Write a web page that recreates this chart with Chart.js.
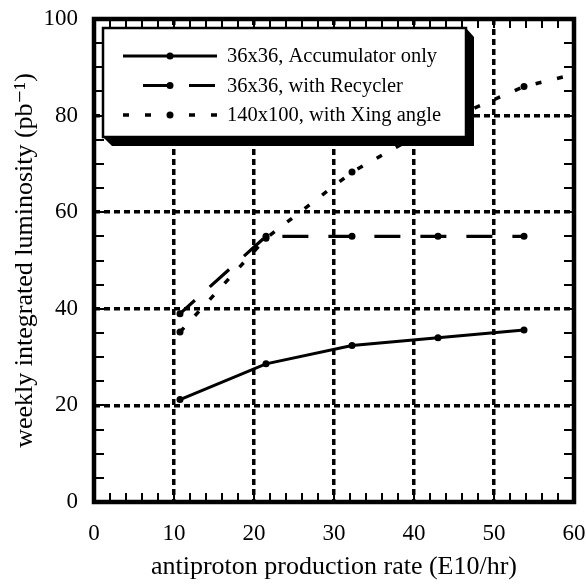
<!DOCTYPE html>
<html><head><meta charset="utf-8">
<script src="https://cdn.jsdelivr.net/npm/chart.js@4.4.1/dist/chart.umd.min.js"></script>
<style>html,body{margin:0;padding:0;background:#fff}canvas{display:block}</style>
</head><body>
<canvas id="c" width="586" height="584"></canvas>
<script>
// ---- data ----
const xValues = [10.75, 21.5, 32.25, 43, 53.75];
const accumulatorOnly = [21.2, 28.6, 32.4, 34.0, 35.6];
const withRecycler = [39.0, 55.0, 55.0, 55.0, 55.0];
const xingAngleX = [10.75, 21.5, 32.25, 43, 53.75, 64.5];
const xingAngle = [35.2, 54.6, 68.3, 78.3, 86.0, 90.4];
const seriesNames = ['36x36, Accumulator only', '36x36, with Recycler', '140x100, with Xing angle'];
const xTicks = [0, 10, 20, 30, 40, 50, 60];
const yTicks = [0, 20, 40, 60, 80, 100];
const xTitle = 'antiproton production rate (E10/hr)';
const yTitle = 'weekly integrated luminosity (pb\u207B\u00B9)';

const FONT = "'Liberation Serif', 'Times New Roman', 'DejaVu Serif', serif";
const toPts = (xs, ys) => ys.map((y, i) => ({x: xs[i], y}));

const datasets = [
  {label: seriesNames[0], data: toPts(xValues, accumulatorOnly), borderColor: '#000', backgroundColor: '#000',
   borderWidth: 3, pointRadius: 3.5, pointBackgroundColor: '#000', pointBorderWidth: 0, borderDash: [],
   legendDash: [], legendOffset: 0},
  {label: seriesNames[1], data: toPts(xValues, withRecycler), borderColor: '#000', backgroundColor: '#000',
   borderWidth: 3.2, pointRadius: 3.5, pointBackgroundColor: '#000', pointBorderWidth: 0, borderDash: [26, 20], borderDashOffset: 6,
   legendDash: [26, 20], legendOffset: 26},
  {label: seriesNames[2], data: toPts(xingAngleX, xingAngle), borderColor: '#000', backgroundColor: '#000',
   borderWidth: 3.5, pointRadius: xingAngle.map((v, i) => i < xValues.length ? 3.5 : 0), pointBackgroundColor: '#000', pointBorderWidth: 0,
   borderDash: [6, 16], legendDash: [6, 16], legendOffset: 0}
];

const framePlugin = {
  id: 'frameAndLegend',
  afterDraw(chart) {
    const {ctx, chartArea: a, scales} = chart;
    const xs = scales.x, ys = scales.y;
    ctx.save();
    // minor ticks (inward on all four sides)
    ctx.strokeStyle = '#000';
    ctx.lineWidth = 2;
    ctx.beginPath();
    for (let v = xs.min; v <= xs.max + 1e-9; v += 2) {
      const px = Math.round(xs.getPixelForValue(v));
      ctx.moveTo(px, a.bottom); ctx.lineTo(px, a.bottom - 9);
      ctx.moveTo(px, a.top); ctx.lineTo(px, a.top + 9);
    }
    for (let v = ys.min; v <= ys.max + 1e-9; v += 5) {
      const py = Math.round(ys.getPixelForValue(v));
      ctx.moveTo(a.left, py); ctx.lineTo(a.left + 10, py);
      ctx.moveTo(a.right, py); ctx.lineTo(a.right - 10, py);
    }
    ctx.stroke();
    // frame
    ctx.lineWidth = 4.5;
    ctx.strokeRect(a.left, a.top, a.right - a.left, a.bottom - a.top);

    // legend box with shadow
    const L = 103, T = 28, R = 466, B = 137, off = 9;
    ctx.fillStyle = '#000';
    ctx.beginPath();
    ctx.moveTo(R, T); ctx.lineTo(R + off - 1, T + off); ctx.lineTo(R + off - 1, B + off);
    ctx.lineTo(L + off, B + off); ctx.lineTo(L, B); ctx.lineTo(R, B); ctx.closePath();
    ctx.fill();
    ctx.fillStyle = '#fff';
    ctx.fillRect(L, T, R - L, B - T);
    ctx.lineWidth = 2.5;
    ctx.strokeStyle = '#000';
    ctx.strokeRect(L, T, R - L, B - T);

    const rows = [56, 85.5, 115];
    const x0 = 123, x1 = 217, tx = 227;
    chart.data.datasets.forEach((ds, i) => {
      const y = rows[i];
      ctx.strokeStyle = ds.borderColor;
      ctx.lineWidth = ds.borderWidth;
      ctx.setLineDash(ds.legendDash);
      ctx.lineDashOffset = ds.legendOffset;
      ctx.beginPath(); ctx.moveTo(x0, y); ctx.lineTo(x1, y); ctx.stroke();
      ctx.setLineDash([]);
      ctx.fillStyle = '#000';
      ctx.beginPath(); ctx.arc((x0 + x1) / 2, y, 3.5, 0, Math.PI * 2); ctx.fill();
      ctx.font = '20.5px ' + FONT;
      ctx.textBaseline = 'middle';
      ctx.textAlign = 'left';
      ctx.fillText(ds.label, tx, y + 1);
    });
    ctx.restore();
  }
};

const hideEdge = (edges) => (c) => (c.tick && edges.includes(c.tick.value)) ? 'rgba(0,0,0,0)' : '#000';
const zeroPad = s => { s.paddingLeft = 0; s.paddingRight = 0; s.paddingTop = 0; s.paddingBottom = 0; };

new Chart(document.getElementById('c'), {
  type: 'line',
  data: {datasets},
  options: {
    responsive: false,
    animation: false,
    devicePixelRatio: 1,
    layout: {padding: {top: 19, right: 12, left: 0, bottom: 0}},
    plugins: {legend: {display: false}, tooltip: {enabled: false}},
    elements: {line: {tension: 0, fill: false}},
    scales: {
      x: {
        type: 'linear', min: xTicks[0], max: xTicks[xTicks.length - 1],
        afterBuildTicks: s => { s.ticks = xTicks.map(v => ({value: v})); },
        afterFit: s => { s.height = 82; zeroPad(s); },
        ticks: {font: {family: FONT, size: 23}, color: '#000', padding: 18, maxRotation: 0, autoSkip: false},
        grid: {drawTicks: false, lineWidth: 3.5, color: hideEdge([xTicks[0], xTicks[xTicks.length - 1]])},
        border: {display: false, dash: [6, 4]},
        title: {display: true, text: xTitle, font: {family: FONT, size: 26}, color: '#000', padding: {top: 0, bottom: 1}}
      },
      y: {
        type: 'linear', min: yTicks[0], max: yTicks[yTicks.length - 1],
        afterBuildTicks: s => { s.ticks = yTicks.map(v => ({value: v})); },
        afterFit: s => { s.width = 94; zeroPad(s); },
        ticks: {font: {family: FONT, size: 23}, color: '#000', padding: 16, autoSkip: false},
        grid: {drawTicks: false, lineWidth: 3.5, color: hideEdge([yTicks[0], yTicks[yTicks.length - 1]])},
        border: {display: false, dash: [6, 4]},
        title: {display: true, text: yTitle, font: {family: FONT, size: 26}, color: '#000', padding: {top: 10, bottom: 0}}
      }
    }
  },
  plugins: [framePlugin]
});
</script>
</body></html>
